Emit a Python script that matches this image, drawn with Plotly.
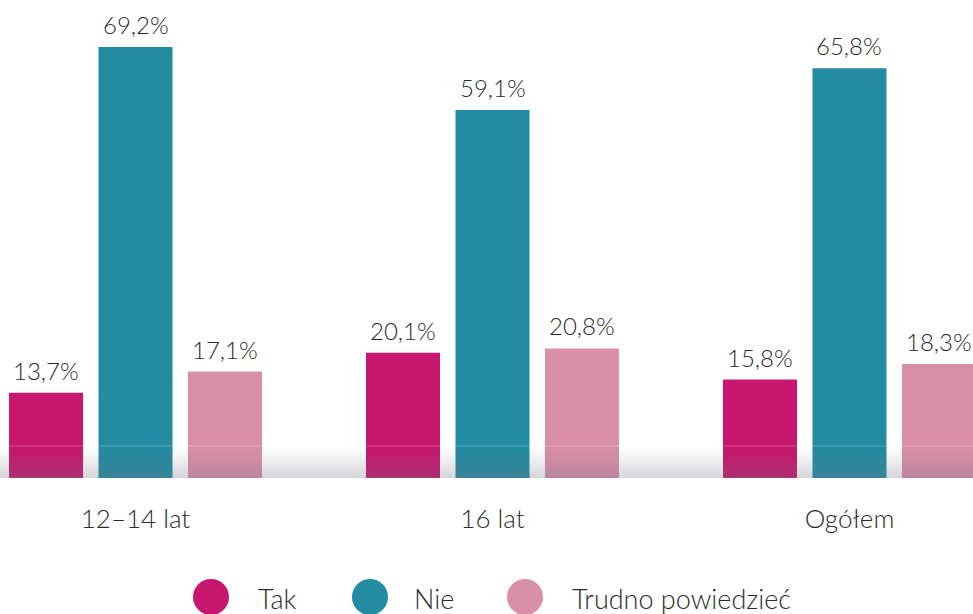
import plotly.graph_objects as go

categories = ["12–14 lat", "16 lat", "Ogółem"]
series_names = ["Tak", "Nie", "Trudno powiedzieć"]
tak = [13.7, 20.1, 15.8]
nie = [69.2, 59.1, 65.8]
trudno = [17.1, 20.8, 18.3]
colors = ["#c8176e", "#238ba2", "#da8fa8"]

FONT = "Lato"
TXT = "#2b2b2b"
fig = go.Figure()
slot_px = 89.25
for k, (name, vals, col) in enumerate(zip(series_names, [tak, nie, trudno], colors)):
    fig.add_trace(go.Bar(
        x=categories, y=vals, name=name, marker=dict(color=col, line=dict(width=0)),
        showlegend=False, hoverinfo="x+y",
    ))
    for cat, v in zip(categories, vals):
        fig.add_annotation(x=cat, y=v, text=f"{v:.1f}%".replace(".", ","),
                           showarrow=False, xshift=(k - 1) * slot_px, yshift=6,
                           yanchor="bottom", xanchor="center",
                           font=dict(size=24, color=TXT, family=FONT, weight=300))

# bottom gray gradient band
band_h = 32 / 478
n = 16
for i in range(n):
    y0 = band_h * i / n
    y1 = band_h * (i + 1) / n
    a = 0.30 * (1 - (i + 0.5) / n) ** 1.2
    fig.add_shape(type="rect", xref="paper", yref="paper", x0=0, x1=1, y0=y0, y1=y1,
                  fillcolor=f"rgba(110,112,125,{a:.3f})", line=dict(width=0), layer="above")
fig.add_shape(type="line", xref="paper", yref="paper", x0=0, x1=1, y0=band_h, y1=band_h,
              line=dict(color="rgba(255,255,255,0.25)", width=1), layer="above")

# legend (circles + labels)
W, H = 973, 614
pw, ph = 973, 478
leg_items = [(211, 256), (370, 412), (525, 570)]
for (cx, tx), name, col in zip(leg_items, series_names, colors):
    r = 18
    cy = 597
    fig.add_shape(type="circle", xref="paper", yref="paper",
                  x0=(cx - r) / pw, x1=(cx + r) / pw,
                  y0=(ph - (cy + r)) / ph, y1=(ph - (cy - r)) / ph,
                  fillcolor=col, line=dict(width=0))
    fig.add_annotation(xref="paper", yref="paper", x=tx / pw, y=(ph - 598) / ph,
                       text=name, showarrow=False, xanchor="left", yanchor="middle",
                       font=dict(size=27, color=TXT, family=FONT, weight=300))

fig.update_layout(
    width=W, height=H,
    margin=dict(l=0, r=0, t=0, b=136, pad=0),
    barmode="group", bargap=0.248, bargroupgap=0.173,
    plot_bgcolor="white", paper_bgcolor="white",
    separators=", ",
    showlegend=False,
    font=dict(family=FONT, color=TXT),
)
fig.update_xaxes(range=[-0.3796, 2.346], showgrid=False, showline=False, zeroline=False,
                 ticks="", tickfont=dict(size=26, color=TXT, family=FONT, weight=300),
                 ticklabelstandoff=23)
fig.update_yaxes(range=[0, 478 / 6.228], visible=False, showgrid=False, zeroline=False)

fig.write_html("out.html", config={"displayModeBar": False},
               post_script="document.body.style.margin='0';document.body.style.overflow='hidden';")
